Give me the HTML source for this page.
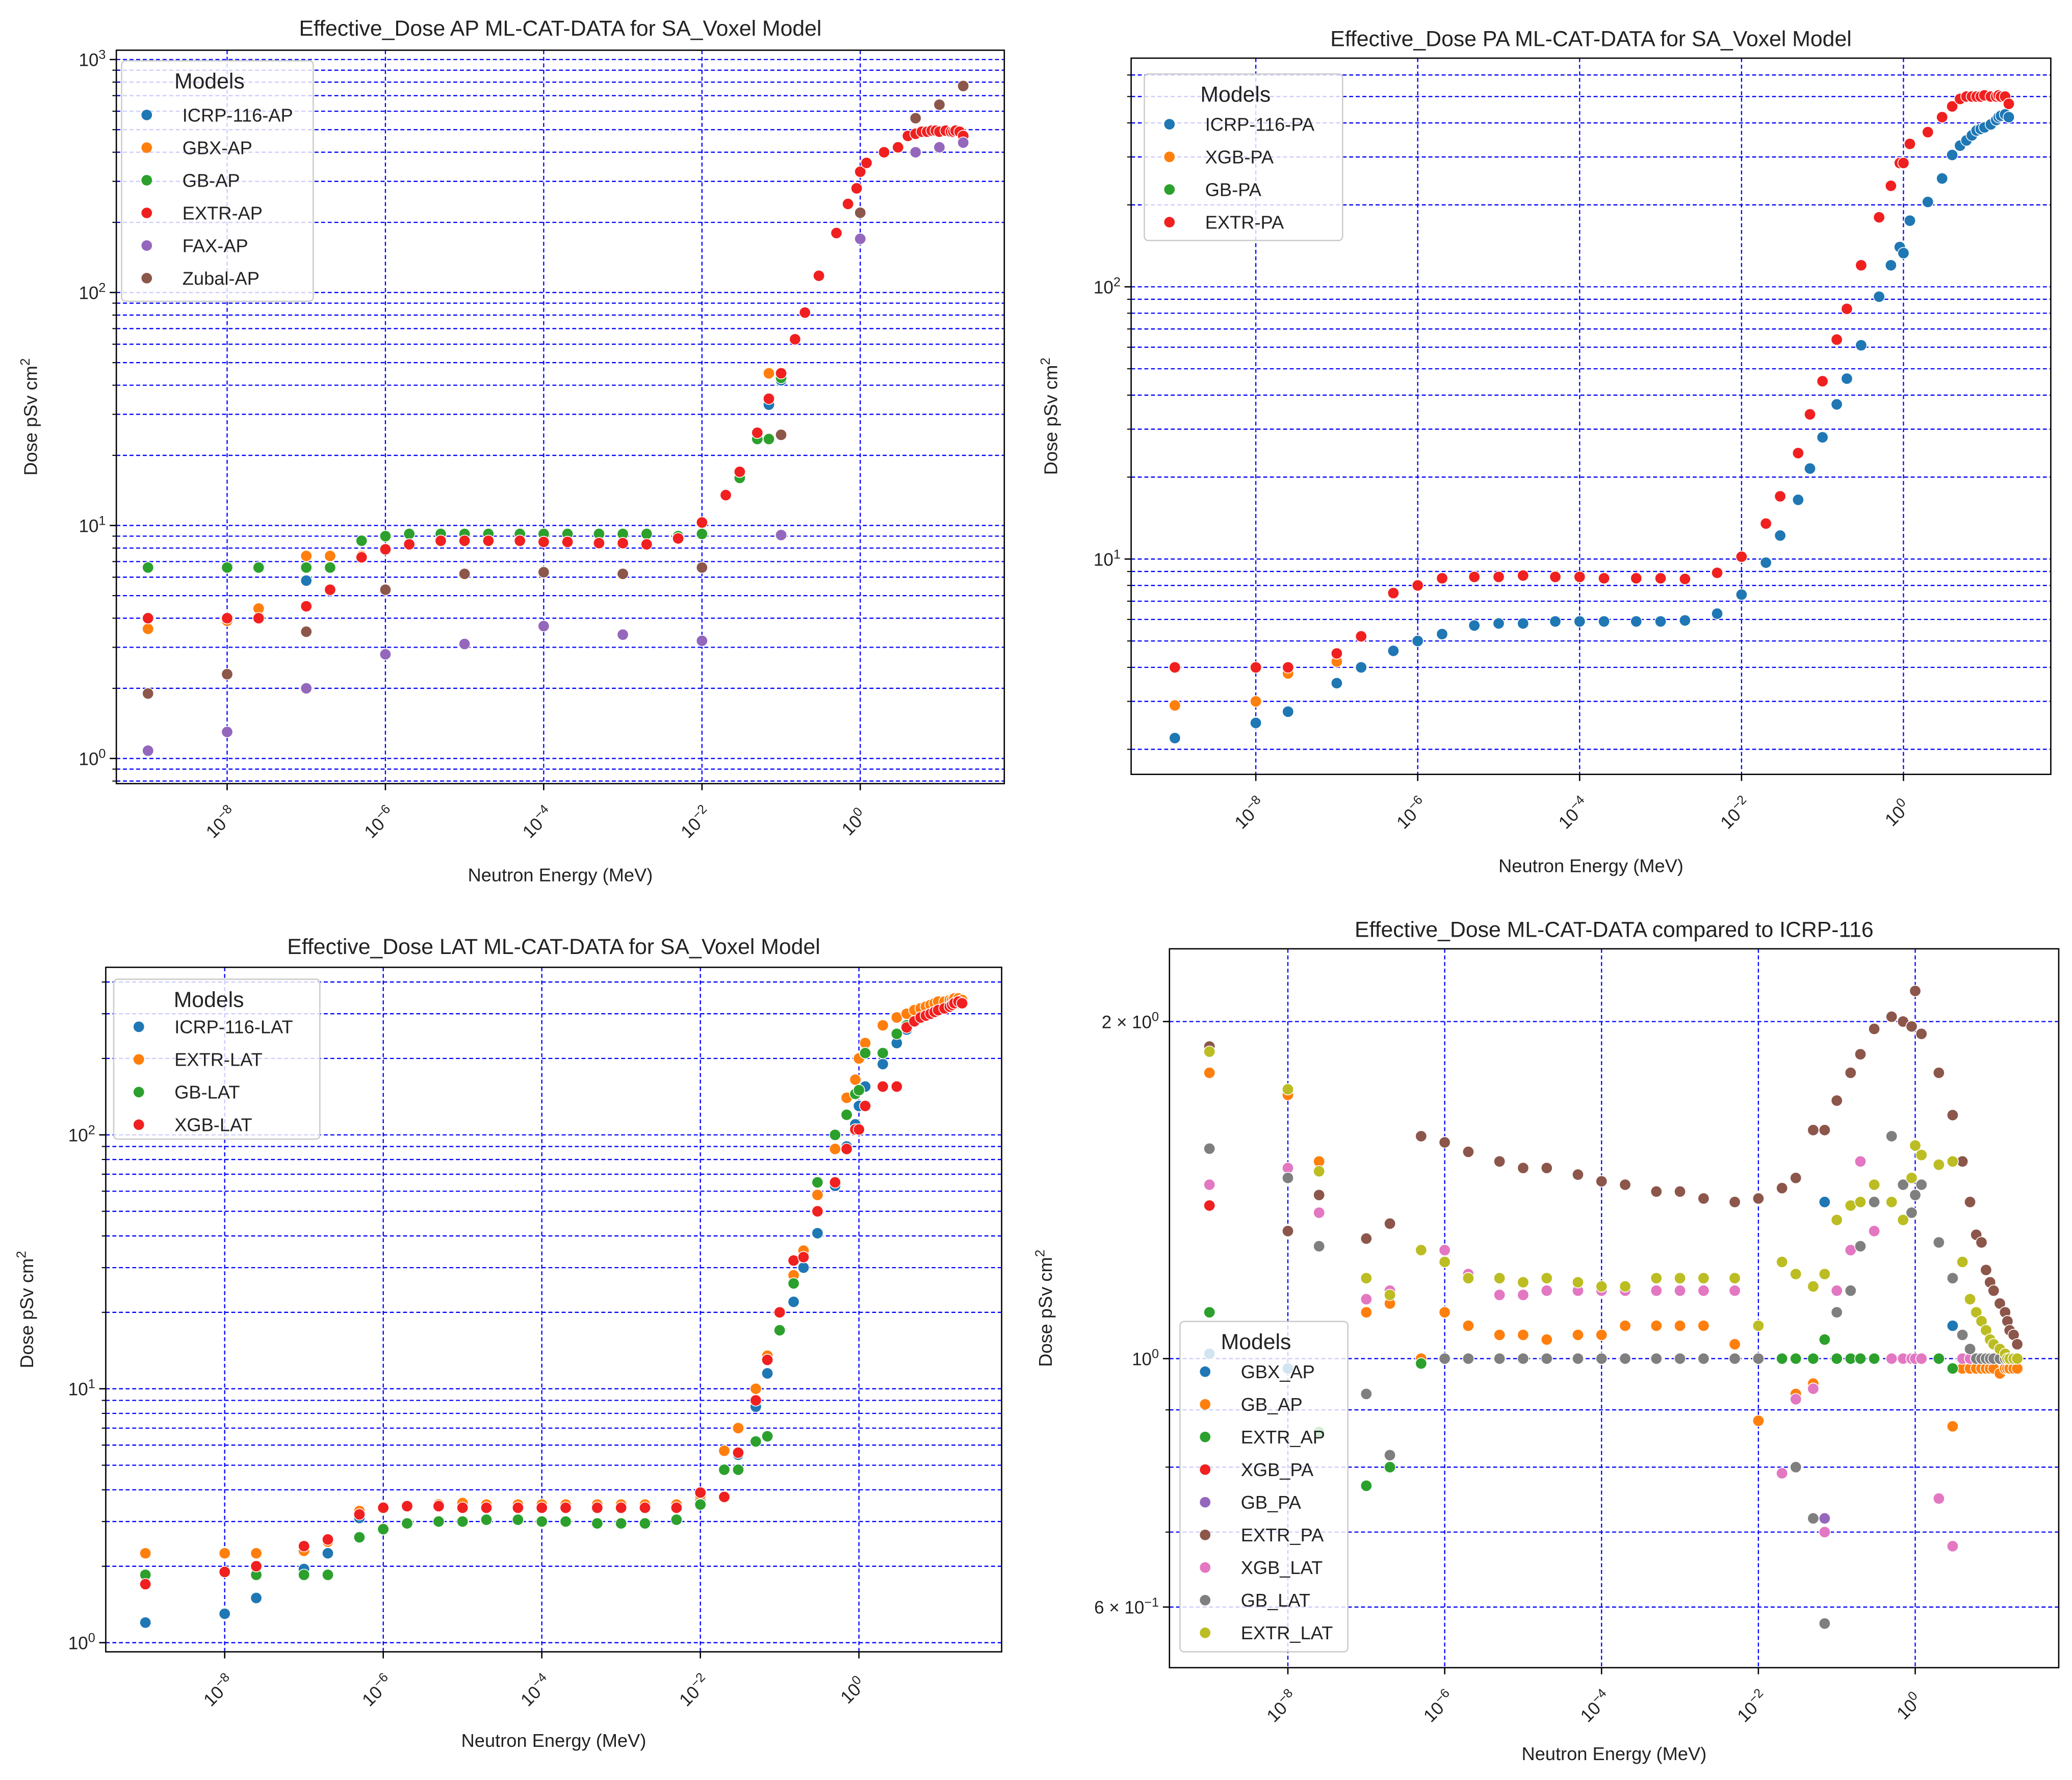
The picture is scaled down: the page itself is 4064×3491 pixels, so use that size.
<!DOCTYPE html>
<html><head><meta charset="utf-8"><style>
html,body{margin:0;padding:0;background:#fff}
svg{display:block}
text{font-family:"Liberation Sans","DejaVu Sans",sans-serif;fill:#222}
</style></head><body>
<svg id="fig" width="4064" height="3491" viewBox="0 0 1568 1347" xmlns="http://www.w3.org/2000/svg"></svg>
<script>
// energies (MeV)
const energies=[1e-9,1e-8,2.5e-8,1e-7,2e-7,5e-7,1e-6,2e-6,5e-6,1e-5,2e-5,5e-5,1e-4,2e-4,5e-4,1e-3,2e-3,5e-3,1e-2,2e-2,3e-2,5e-2,7e-2,0.1,0.15,0.2,0.3,0.5,0.7,0.9,1,1.2,2,3,4,5,6,7,8,9,10,12,14,15,16,18,20];
const N=null;
// Panel 1 (AP)
const apIcrp=[N,N,N,5.8,N,N,N,N,N,N,N,N,N,N,N,N,N,N,N,N,N,N,33,42,N,N,N,N,N,N,N,N,N,N,N,N,N,N,N,N,N,N,N,N,N,N,N];
const apGbx=[3.6,3.9,4.4,7.4,7.4,7.4,N,N,N,N,N,N,N,N,N,N,N,N,N,N,N,N,45,45,N,N,N,N,N,N,N,N,N,N,N,N,N,N,N,N,N,N,N,N,N,N,N];
const apGb=[6.6,6.6,6.6,6.6,6.6,8.6,9.0,9.2,9.2,9.2,9.2,9.2,9.2,9.2,9.2,9.2,9.2,9.0,9.2,N,16,23.5,23.5,43,N,N,N,N,N,N,N,N,N,N,N,N,N,N,N,N,N,N,N,N,N,N,N];
const apExtr=[4.0,4.0,4.0,4.5,5.3,7.3,7.9,8.3,8.6,8.6,8.6,8.6,8.5,8.5,8.4,8.4,8.3,8.8,10.3,13.5,17,25,35,45,63,82,118,180,240,280,330,360,400,420,470,480,490,490,495,495,490,495,490,490,495,490,470];
const apFax=[1.08,1.3,N,2.0,N,N,2.8,N,N,3.1,N,N,3.7,N,N,3.4,N,N,3.2,N,N,N,N,9.1,N,N,N,N,N,N,170,N,N,N,N,400,N,N,N,N,420,N,N,N,N,N,440];
const apZubal=[1.9,2.3,N,3.5,N,N,5.3,N,N,6.2,N,N,6.3,N,N,6.2,N,N,6.6,N,N,N,N,24.5,N,N,N,N,N,N,220,N,N,N,N,560,N,N,N,N,640,N,N,N,N,N,770];
// Panel 2 (PA)
const paIcrp=[2.2,2.5,2.75,3.5,4.0,4.6,5.0,5.3,5.7,5.8,5.8,5.9,5.9,5.9,5.9,5.9,5.95,6.3,7.4,9.7,12.2,16.5,21.5,28,37,46,61,92,120,140,133,175,205,250,305,330,345,360,375,380,385,395,410,420,425,430,420];
const paXgb=[2.9,3.0,3.8,4.2,N,N,N,N,N,N,N,N,N,N,N,N,N,N,N,N,N,N,N,N,N,N,N,N,N,N,N,N,N,N,N,N,N,N,N,N,N,N,N,N,N,N,N];
const paGb=[N,N,N,N,N,N,N,N,N,N,N,N,N,N,N,N,N,N,N,N,N,N,N,N,N,N,N,N,N,N,N,N,N,N,N,N,N,N,N,N,N,N,N,N,N,N,N];
const paExtr=[4.0,4.0,4.0,4.5,5.2,7.5,8.0,8.5,8.6,8.6,8.7,8.6,8.6,8.5,8.5,8.5,8.45,8.9,10.2,13.5,17,24.5,34,45,64,83,120,180,235,285,285,335,370,420,460,490,500,500,500,500,505,500,500,505,500,500,470];
// Panel 3 (LAT)
const latIcrp=[1.2,1.3,1.5,1.95,2.25,3.1,3.4,3.45,3.5,3.5,3.5,3.4,3.4,3.4,3.4,3.4,3.4,3.5,3.7,4.8,5.5,8.5,11.5,17,22,30,41,63,90,110,130,155,190,230,260,280,290,300,305,310,315,320,325,330,335,340,340];
const latExtr=[2.25,2.25,2.25,2.3,2.5,3.3,3.4,3.45,3.5,3.55,3.5,3.5,3.5,3.5,3.5,3.5,3.5,3.5,3.8,5.7,7,10,13.5,20,28,35,58,88,140,165,200,230,270,290,300,310,315,320,325,330,335,335,340,340,345,345,340];
const latGb=[1.85,1.9,1.85,1.85,1.85,2.6,2.8,2.95,3.0,3.0,3.05,3.05,3.0,3.0,2.95,2.95,2.95,3.05,3.5,4.8,4.8,6.2,6.5,17,26,33,65,100,120,145,150,210,210,250,270,280,290,295,300,305,310,315,320,325,330,330,330];
const latXgb=[1.7,1.9,2.0,2.4,2.55,3.2,3.4,3.45,3.45,3.4,3.4,3.4,3.4,3.4,3.4,3.4,3.4,3.4,3.9,3.75,5.6,9,13,20,32,33,50,65,88,105,105,130,155,155,265,280,290,295,300,305,310,315,320,325,330,335,330];
// Panel 4 (ratios)
const rGbxAp=[1.01,0.98,N,1.28,N,N,1.0,1.0,1.0,1.0,1.0,1.0,1.0,1.0,1.0,1.0,1.0,1.0,1.0,1.0,1.0,1.0,1.38,1.0,1.0,1.0,1.0,1.0,1.0,1.0,1.0,1.0,1.0,1.07,1.0,1.0,1.0,1.0,1.0,1.0,1.0,1.0,1.0,1.0,1.0,1.0,1.0];
const rGbAp=[1.8,1.72,1.5,1.1,1.12,1.0,1.1,1.07,1.05,1.05,1.04,1.05,1.05,1.07,1.07,1.07,1.07,1.03,0.88,1.0,0.93,0.95,0.7,1.0,1.0,1.0,1.0,1.0,1.0,1.0,1.0,1.0,1.0,0.87,0.98,0.98,0.98,0.98,0.98,0.98,0.98,0.97,0.98,0.98,0.98,0.98,0.98];
const rExtrAp=[1.1,N,0.86,0.77,0.8,0.99,1.0,1.0,1.0,1.0,1.0,1.0,1.0,1.0,1.0,1.0,1.0,1.0,1.0,1.0,1.0,1.0,1.04,1.0,1.0,1.0,1.0,1.0,1.0,1.0,1.0,1.0,1.0,0.98,1.0,1.0,1.0,1.0,1.0,1.0,1.0,1.0,1.0,1.0,1.0,1.0,1.0];
const rXgbPa=[1.37,1.3,1.4,N,N,N,N,N,N,N,N,N,N,N,N,N,N,N,N,N,N,N,N,N,N,N,N,N,N,N,N,N,N,N,N,N,N,N,N,N,N,N,N,N,N,N,N];
const rGbPa=[1.9,N,N,N,N,N,N,N,N,N,N,N,N,N,N,N,N,N,N,N,N,N,0.72,N,N,N,N,N,N,N,N,N,N,N,N,N,N,N,N,N,N,N,N,N,N,N,N];
const rExtrPa=[1.9,1.3,1.4,1.28,1.32,1.58,1.56,1.53,1.5,1.48,1.48,1.46,1.44,1.43,1.41,1.41,1.39,1.38,1.39,1.42,1.45,1.6,1.6,1.7,1.8,1.87,1.97,2.02,2.0,1.98,2.13,1.95,1.8,1.65,1.5,1.38,1.29,1.27,1.2,1.17,1.15,1.12,1.1,1.08,1.06,1.05,1.03];
const rXgbLat=[1.43,1.48,1.35,1.13,1.15,1.25,1.25,1.19,1.14,1.14,1.15,1.15,1.15,1.15,1.15,1.15,1.15,1.15,1.0,0.79,0.92,0.94,0.7,1.15,1.25,1.5,1.3,1.0,1.0,1.0,1.0,1.0,0.75,0.68,1.0,1.0,1.0,1.0,1.0,1.0,1.0,1.0,1.0,1.0,1.0,1.0,1.0];
const rGbLat=[1.54,1.45,1.26,0.93,0.82,N,1.0,1.0,1.0,1.0,1.0,1.0,1.0,1.0,1.0,1.0,1.0,1.0,1.0,N,0.8,0.72,0.58,1.1,1.15,1.26,1.38,1.58,1.43,1.35,1.4,1.43,1.27,1.18,1.05,1.02,1.0,1.0,1.0,1.0,1.0,1.0,1.0,1.0,1.0,1.0,1.0];
const rExtrLat=[1.88,1.74,1.47,1.18,1.14,1.25,1.22,1.18,1.18,1.17,1.18,1.17,1.16,1.16,1.18,1.18,1.18,1.18,1.07,1.22,1.19,1.16,1.19,1.33,1.37,1.38,1.43,1.38,1.33,1.45,1.55,1.52,1.49,1.5,1.22,1.13,1.1,1.08,1.06,1.04,1.03,1.02,1.01,1.0,1.0,1.0,1.0];

const C={blue:'#1f77b4',orange:'#ff7f0e',green:'#2ca02c',red:'#f02020',purple:'#9467bd',brown:'#8c564b',pink:'#e377c2',gray:'#7f7f7f',olive:'#bcbd22'};
const svg=document.getElementById('fig');
const NS='http://www.w3.org/2000/svg';
function mk(tag,attrs,parent){const e=document.createElementNS(NS,tag);for(const k in attrs)e.setAttribute(k,attrs[k]);(parent||svg).appendChild(e);return e;}
function sup(t,x,y,base,exp,size,anchor,transform){
  const el=mk('text',{x:x,y:y,'font-size':size,'text-anchor':anchor||'middle'},t);
  if(transform)el.setAttribute('transform',transform);
  const a=document.createElementNS(NS,'tspan');a.textContent=base;el.appendChild(a);
  const b=document.createElementNS(NS,'tspan');b.setAttribute('dy',-size*0.4);b.setAttribute('font-size',size*0.72);b.textContent=exp;el.appendChild(b);
  return el;
}
const panels=[
 {id:'ap',L:88,R:760,T:38,B:593,x0:-9.4,x1:1.82,y0:-0.108,y1:3.04,title:'Effective_Dose AP ML-CAT-DATA for SA_Voxel Model',ty:27,xly:667,ylx:28,
  yt:[0,1,2,3],series:[['ICRP-116-AP',apIcrp,C.blue],['GBX-AP',apGbx,C.orange],['GB-AP',apGb,C.green],['EXTR-AP',apExtr,C.red],['FAX-AP',apFax,C.purple],['Zubal-AP',apZubal,C.brown]],
  leg:{x:92,y:46,w:145,h:182,my:87}},
 {id:'pa',L:856,R:1552,T:44,B:586,x0:-9.54,x1:1.82,y0:0.209,y1:2.84,title:'Effective_Dose PA ML-CAT-DATA for SA_Voxel Model',ty:35,xly:660,ylx:800,
  yt:[1,2],series:[['ICRP-116-PA',paIcrp,C.blue],['XGB-PA',paXgb,C.orange],['GB-PA',paGb,C.green],['EXTR-PA',paExtr,C.red]],
  leg:{x:866,y:56,w:150,h:126,my:94}},
 {id:'lat',L:80,R:758,T:732,B:1250,x0:-9.5,x1:1.8,y0:-0.036,y1:2.66,title:'Effective_Dose LAT ML-CAT-DATA for SA_Voxel Model',ty:722,xly:1322,ylx:25,
  yt:[0,1,2],series:[['ICRP-116-LAT',latIcrp,C.blue],['EXTR-LAT',latExtr,C.orange],['GB-LAT',latGb,C.green],['XGB-LAT',latXgb,C.red]],
  leg:{x:86,y:741,w:156,h:121,my:777}},
 {id:'ratio',L:885,R:1558,T:718,B:1262,x0:-9.51,x1:1.83,y0:-0.276,y1:0.366,title:'Effective_Dose ML-CAT-DATA compared to ICRP-116',ty:709,xly:1332,ylx:796,
  yt:null,series:[['GBX_AP',rGbxAp,C.blue],['GB_AP',rGbAp,C.orange],['EXTR_AP',rExtrAp,C.green],['XGB_PA',rXgbPa,C.red],['GB_PA',rGbPa,C.purple],['EXTR_PA',rExtrPa,C.brown],['XGB_LAT',rXgbLat,C.pink],['GB_LAT',rGbLat,C.gray],['EXTR_LAT',rExtrLat,C.olive]],
  leg:{x:893,y:1000,w:127,h:250,my:1038}}
];
panels.forEach(p=>{
  const g=mk('g',{});
  
  
  const X=v=>p.L+(Math.log10(v)-p.x0)/(p.x1-p.x0)*(p.R-p.L);
  const Y=v=>p.B-(Math.log10(v)-p.y0)/(p.y1-p.y0)*(p.B-p.T);
  const grid=mk('g',{stroke:'#0000ff','stroke-width':0.9,'stroke-dasharray':'3,2'},g);
  
  
  for(let k=Math.floor(p.y0);k<=Math.ceil(p.y1);k++)for(let m=1;m<=9;m++){
    const lv=k+Math.log10(m); if(lv<p.y0||lv>p.y1)continue;
    const y=Y(Math.pow(10,lv)); mk('line',{x1:p.L,x2:p.R,y1:y,y2:y},grid);
    mk('line',{x1:p.L-3,x2:p.L,y1:y,y2:y,stroke:'#000','stroke-dasharray':'none','stroke-width':0.8},grid);
  }
  for(let k=-8;k<=0;k+=2){const x=X(Math.pow(10,k));mk('line',{x1:x,x2:x,y1:p.T,y2:p.B},grid);}
  mk('rect',{x:p.L,y:p.T,width:p.R-p.L,height:p.B-p.T,fill:'none',stroke:'#000','stroke-width':1},g);
  for(let k=-8;k<=0;k+=2){const x=X(Math.pow(10,k));
    mk('line',{x1:x,x2:x,y1:p.B,y2:p.B+5,stroke:'#000','stroke-width':1},g);
    const t=sup(g,x-4,p.B+34,'10',k==0?'0':'\u2212'+(-k),13.5,'middle','rotate(-45 '+(x-4)+' '+(p.B+30)+')');
    
  }
  if(p.yt){p.yt.forEach(k=>{const y=Y(Math.pow(10,k));
    mk('line',{x1:p.L-5,x2:p.L,y1:y,y2:y,stroke:'#000','stroke-width':1},g);
    const t=sup(g,p.L-8,y+5,'10',k<0?'\u2212'+(-k):String(k),13.5,'end');
    });}
  else{[[2,'2 \u00d7 10','0'],[1,'10','0'],[0.6,'6 \u00d7 10','\u22121']].forEach(d=>{const y=Y(d[0]);
    mk('line',{x1:p.L-5,x2:p.L,y1:y,y2:y,stroke:'#000','stroke-width':1},g);
    const t=sup(g,p.L-8,y+5,d[1],d[2],13.5,'end');
    });}
  const ti=mk('text',{x:(p.L+p.R)/2,y:p.ty,'font-size':16.5,'text-anchor':'middle'},g);ti.textContent=p.title;
  
  const xl=mk('text',{x:(p.L+p.R)/2,y:p.xly,'font-size':14,'text-anchor':'middle'},g);xl.textContent='Neutron Energy (MeV)';
  
  const yc=(p.T+p.B)/2;
  const yl=sup(g,p.ylx,yc,'Dose pSv cm','2',14,'middle','rotate(-90 '+p.ylx+' '+yc+')');
  
  const clip='clip-'+p.id;
  const cp=mk('clipPath',{id:clip},g);mk('rect',{x:p.L,y:p.T,width:p.R-p.L,height:p.B-p.T},cp);
  p.series.forEach(s=>{
    const sg=mk('g',{'clip-path':'url(#'+clip+')'},g);
    
    
    s[1].forEach((v,i)=>{if(v==null)return;
      const c=mk('circle',{cx:X(energies[i]),cy:Y(v),r:4.3,fill:s[2],stroke:'#fff','stroke-width':0.6},sg);
      
      
    });
  });
  const lg=mk('g',{},g);
  
  
  mk('rect',{x:p.leg.x,y:p.leg.y,width:p.leg.w,height:p.leg.h,rx:3,fill:'#fff','fill-opacity':0.8,stroke:'#ccc','stroke-width':1},lg);
  const lt=mk('text',{x:p.leg.x+p.leg.w/2-6,y:p.leg.y+21,'font-size':16.5,'text-anchor':'middle'},lg);lt.textContent='Models';
  
  p.series.forEach((s,i)=>{const y=p.leg.my+i*24.7;
    const e=mk('g',{},lg);
    
    
    mk('circle',{cx:p.leg.x+19,cy:y,r:4,fill:s[2]},e);
    const t=mk('text',{x:p.leg.x+46,y:y+5,'font-size':14},e);t.textContent=s[0];
  });
});
</script>
</body></html>
